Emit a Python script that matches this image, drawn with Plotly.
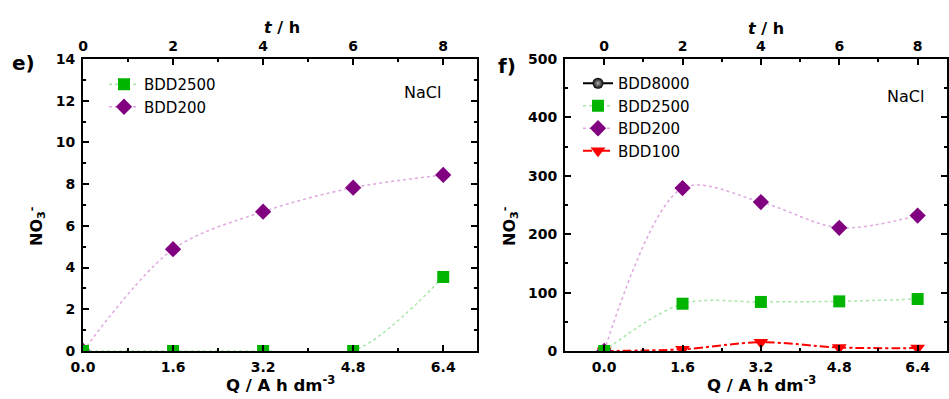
import plotly.graph_objects as go

# Charge passed (Q) and electrolysis time
q_vals = [0.0, 1.6, 3.2, 4.8, 6.4]

# Panel e) nitrate, NaCl medium
e_bdd2500 = [0.0, 0.0, 0.0, 0.0, 3.55]
e_bdd200 = [0.0, 4.88, 6.68, 7.83, 8.44]

# Panel f) nitrate, NaCl medium
f_bdd8000 = [None, None, None, None, None]
f_bdd2500 = [0.0, 81, 84, 85, 89]
f_bdd200 = [0.0, 279, 255, 211, 232]
f_bdd100 = [0.0, 3, 15, 6, 5]

W, H = 949, 399
FONT = "DejaVu Sans"
GREEN = "#00b400"
PURPLE = "#800080"
RED = "#ff0000"


def px_x(p):
    return p / W


def px_y(p):
    return 1 - p / H


y_dom = [px_y(351), px_y(59)]
left_dom = [px_x(83), px_x(477)]
right_dom = [px_x(565), px_x(947)]

fig = go.Figure()


def add_series(x, y, name, xa, ya, legend, kind, rank):
    if kind == "sq":
        marker = dict(symbol="square", size=12, color=GREEN)
        line = dict(color="#a8e6a8", width=1.5, dash="dot", shape="spline", smoothing=0.9)
    elif kind == "dia":
        marker = dict(symbol="diamond", size=12.5, color=PURPLE)
        line = dict(color="#e0a8e0", width=1.5, dash="dot", shape="spline", smoothing=0.9)
    elif kind == "tri":
        marker = dict(symbol="triangle-down", size=13, color=RED)
        line = dict(color=RED, width=2, dash="dashdot", shape="spline", smoothing=0.9)
    else:
        marker = dict(symbol="circle", size=11, color="black",
                      gradient=dict(type="radial", color="#b0b0b0"))
        line = dict(color="black", width=2, shape="spline")
    fig.add_trace(go.Scatter(x=x, y=y, name=name, mode="lines+markers",
                             marker=marker, line=line, xaxis=xa, yaxis=ya,
                             legend=legend, legendrank=rank, cliponaxis=True))


# panel e
add_series(q_vals, e_bdd200, "BDD200", "x", "y", "legend", "dia", 2)
add_series(q_vals, e_bdd2500, "BDD2500", "x", "y", "legend", "sq", 1)

# panel f
add_series(q_vals, f_bdd8000, "BDD8000", "x3", "y2", "legend2", "ball", 1)
add_series(q_vals, f_bdd100, "BDD100", "x3", "y2", "legend2", "tri", 4)
add_series(q_vals, f_bdd200, "BDD200", "x3", "y2", "legend2", "dia", 3)
add_series(q_vals, f_bdd2500, "BDD2500", "x3", "y2", "legend2", "sq", 2)

# empty traces so the time axes are drawn
fig.add_trace(go.Scatter(x=[None], y=[None], xaxis="x2", yaxis="y",
                         showlegend=False, hoverinfo="skip"))
fig.add_trace(go.Scatter(x=[None], y=[None], xaxis="x4", yaxis="y2",
                         showlegend=False, hoverinfo="skip"))

tickfont = dict(family=FONT, size=14, color="black", weight="bold")
axis_common = dict(showline=True, linecolor="black", linewidth=2,
                   ticks="inside", ticklen=6, tickwidth=1.5, tickcolor="black",
                   showgrid=False, zeroline=False, tickfont=tickfont,
                   automargin=False)
minor_common = dict(ticks="inside", ticklen=3, tickwidth=1.5, tickcolor="black",
                    showgrid=False)

legend_font = dict(family=FONT, size=15, color="black")

fig.update_layout(
    width=W, height=H,
    margin=dict(l=0, r=0, t=0, b=0, pad=0, autoexpand=False),
    paper_bgcolor="white", plot_bgcolor="white",
    font=dict(family=FONT, color="black"),
    xaxis=dict(domain=left_dom, anchor="y", range=[0, 7], tick0=0, dtick=1.6,
               tickformat=".1f", minor=dict(dtick=0.8, tick0=0, **minor_common),
               ticklabelstandoff=2, **axis_common),
    xaxis2=dict(domain=left_dom, anchor="y", overlaying="x", side="top",
                range=[0, 8.75], tick0=0, dtick=2,
                minor=dict(dtick=1, tick0=0, **minor_common), **axis_common),
    yaxis=dict(domain=y_dom, anchor="x", range=[0, 14], dtick=2, mirror="ticks",
               minor=dict(dtick=1, **minor_common), ticklabelstandoff=3,
               **axis_common),
    xaxis3=dict(domain=right_dom, anchor="y2", range=[-0.8, 7], tick0=0, dtick=1.6,
                tickformat=".1f", minor=dict(dtick=0.8, tick0=0, **minor_common),
                ticklabelstandoff=2, **axis_common),
    xaxis4=dict(domain=right_dom, anchor="y2", overlaying="x3", side="top",
                range=[-1, 8.75], tick0=0, dtick=2,
                minor=dict(dtick=1, tick0=0, **minor_common), **axis_common),
    yaxis2=dict(domain=y_dom, anchor="x3", range=[0, 500], dtick=100, mirror="ticks",
                minor=dict(dtick=50, **minor_common), ticklabelstandoff=3,
                **axis_common),
    legend=dict(x=px_x(104), y=px_y(68), xanchor="left", yanchor="top",
                bgcolor="rgba(0,0,0,0)", font=legend_font,
                tracegroupgap=0, itemwidth=30),
    legend2=dict(x=px_x(578), y=px_y(67), xanchor="left", yanchor="top",
                 bgcolor="rgba(0,0,0,0)", font=legend_font,
                 tracegroupgap=0, itemwidth=30),
    showlegend=True,
)

bold_title = dict(family=FONT, size=16, color="black", weight="bold")
annotations = [
    dict(text="e)", x=px_x(23), y=px_y(63), font=dict(family=FONT, size=20, weight="bold")),
    dict(text="f)", x=px_x(507), y=px_y(66), font=dict(family=FONT, size=20, weight="bold")),
    dict(text="NaCl", x=px_x(422), y=px_y(92), font=dict(family=FONT, size=16)),
    dict(text="NaCl", x=px_x(905), y=px_y(96), font=dict(family=FONT, size=16)),
    dict(text="Q / A h dm<sup>-3</sup>", x=px_x(280), y=px_y(384),
         font=dict(family=FONT, size=16.5, color="black", weight="bold")),
    dict(text="Q / A h dm<sup>-3</sup>", x=px_x(761), y=px_y(384),
         font=dict(family=FONT, size=16.5, color="black", weight="bold")),
    dict(text="<i>t</i> / h", x=px_x(282), y=px_y(27), font=bold_title),
    dict(text="<i>t</i> / h", x=px_x(766), y=px_y(29), font=bold_title),
    dict(text="NO<sub>3</sub><sup>-</sup>", x=px_x(36), y=px_y(226), textangle=-90, font=bold_title),
    dict(text="NO<sub>3</sub><sup>-</sup>", x=px_x(509), y=px_y(226), textangle=-90, font=bold_title),
]
for a in annotations:
    fig.add_annotation(xref="paper", yref="paper", showarrow=False,
                       xanchor="center", yanchor="middle", **a)

fig.write_html("out.html")
